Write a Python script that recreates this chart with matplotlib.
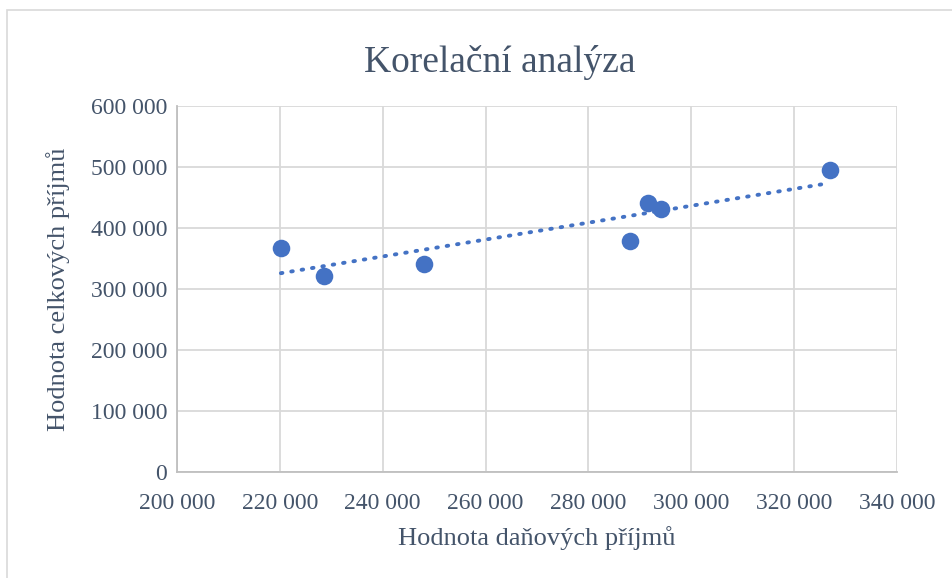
import numpy as np
import matplotlib.pyplot as plt
from matplotlib.patches import Rectangle
from matplotlib.ticker import FuncFormatter, MultipleLocator

# hodnoty
dane_prijmy = [220200, 228600, 248000, 288000, 291600, 294100, 326900]
celkove_prijmy = [367000, 322000, 340500, 378500, 440500, 431000, 495000]

plt.rcParams["font.family"] = ["Liberation Serif", "DejaVu Serif"]
text_color = "#44546A"
dot_color = "#4472C4"

fig = plt.figure(figsize=(9.52, 5.78), dpi=100)
ax = fig.add_axes([177 / 952, 1 - 472 / 578, 720 / 952, 366 / 578])

ax.scatter(dane_prijmy, celkove_prijmy, s=160, color=dot_color, zorder=3, linewidths=0)

# lineární trend
k, q = np.polyfit(dane_prijmy, celkove_prijmy, 1)
xs = np.array([min(dane_prijmy), max(dane_prijmy)])
ax.plot(xs, k * xs + q, color=dot_color, lw=2.8, linestyle=(0, (0.4, 2.3)),
        dash_capstyle="round", zorder=2)

ax.set_xlim(200000, 340000)
ax.set_ylim(0, 600000)
ax.xaxis.set_major_locator(MultipleLocator(20000))
ax.yaxis.set_major_locator(MultipleLocator(100000))
fmt = FuncFormatter(lambda v, p: f"{int(v):,}".replace(",", " "))
ax.xaxis.set_major_formatter(fmt)
ax.yaxis.set_major_formatter(fmt)

ax.grid(True, color="#D9D9D9", lw=1.3)
ax.set_axisbelow(True)
for side in ["top", "right"]:
    ax.spines[side].set_visible(False)
for side in ["left", "bottom"]:
    ax.spines[side].set_color("#BFBFBF")
    ax.spines[side].set_linewidth(1.3)
ax.tick_params(length=0, labelsize=17, colors=text_color)
ax.tick_params(axis="x", pad=15)
ax.tick_params(axis="y", pad=7)

ax.set_xlabel("Hodnota daňových příjmů", fontsize=19, color=text_color, labelpad=9)
ax.set_ylabel("Hodnota celkových příjmů", fontsize=19, color=text_color, labelpad=15)
fig.text(0.525, 1 - 63 / 578, "Korelační analýza", fontsize=27, color=text_color,
         ha="center", va="center")

fig.patches.append(Rectangle((7 / 952, -0.1), 1.2, 1 - 10 / 578 + 0.1,
                             transform=fig.transFigure, fill=False,
                             edgecolor="#D9D9D9", lw=1.2))

fig.savefig("out.png", dpi=100)
